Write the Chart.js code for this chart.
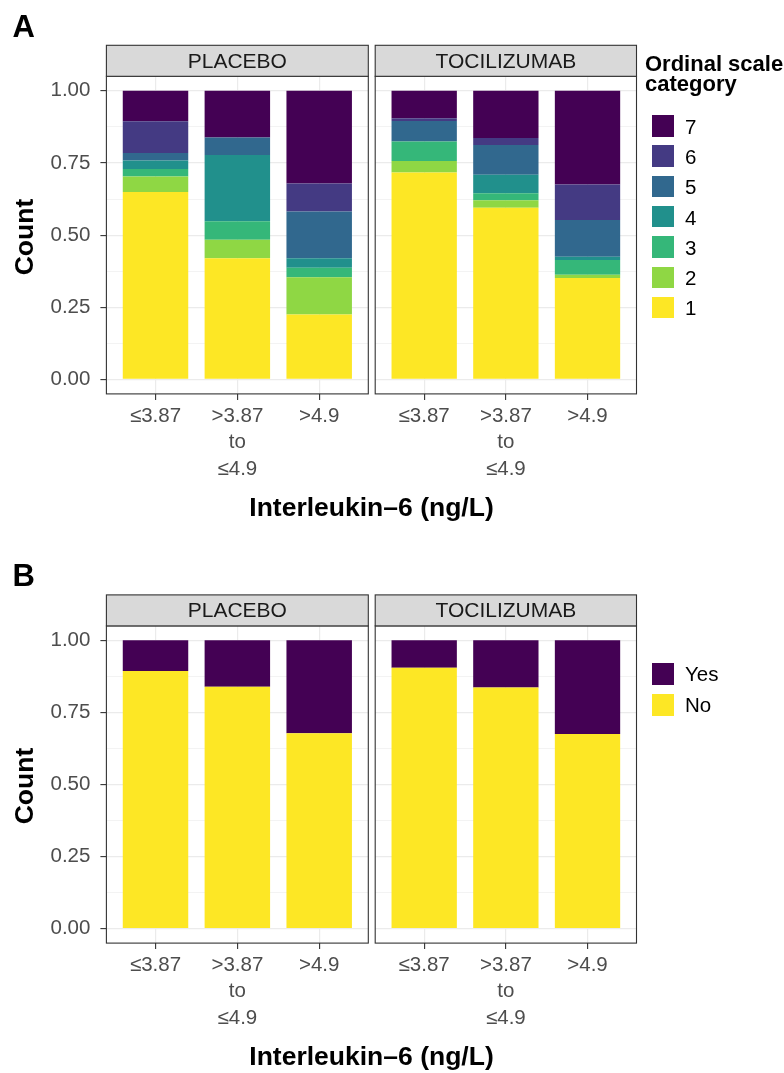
<!DOCTYPE html>
<html>
<head>
<meta charset="utf-8">
<script src="https://cdn.jsdelivr.net/npm/chart.js@4/dist/chart.umd.min.js"></script>
<style>
html,body{margin:0;padding:0;background:#fff;}
#wrap{position:relative;width:784px;height:1073px;overflow:hidden;font-family:"Liberation Sans",Arial,sans-serif;background:#fff;}
canvas{position:absolute;left:0;top:0;}
.t{position:absolute;white-space:nowrap;}
.sw{position:absolute;}
</style>
</head>
<body>
<div id="wrap">
<canvas id="aPlacebo" width="784" height="1073"></canvas>
<canvas id="aToci" width="784" height="1073"></canvas>
<canvas id="bPlacebo" width="784" height="1073"></canvas>
<canvas id="bToci" width="784" height="1073"></canvas>
</div>
<script>
// ---------------- DATA ----------------
const categoryLabels = ['≤3.87', ['>3.87', 'to', '≤4.9'], '>4.9'];
const facetLabels = ['PLACEBO', 'TOCILIZUMAB'];
const ordinalLevels = ['1', '2', '3', '4', '5', '6', '7'];
// rows: ordinal scale category 1..7 ; columns: IL-6 bins
const placeboOrdinal = [
  [0.649, 0.420, 0.225],
  [0.054, 0.064, 0.129],
  [0.026, 0.064, 0.033],
  [0.029, 0.229, 0.033],
  [0.026, 0.061, 0.162],
  [0.110, 0.000, 0.097],
  [0.106, 0.162, 0.321]
];
const tociOrdinal = [
  [0.717, 0.595, 0.351],
  [0.040, 0.026, 0.012],
  [0.067, 0.024, 0.051],
  [0.000, 0.064, 0.011],
  [0.071, 0.103, 0.127],
  [0.010, 0.024, 0.123],
  [0.095, 0.164, 0.325]
];
const binaryLevels = ['No', 'Yes'];
const placeboNo = [0.894, 0.839, 0.678];
const placeboYes = [0.106, 0.161, 0.322];
const tociNo = [0.905, 0.836, 0.675];
const tociYes = [0.095, 0.164, 0.325];
const yTickValues = [0, 0.125, 0.25, 0.375, 0.5, 0.625, 0.75, 0.875, 1];

// ---------------- STYLE ----------------
const ordinalColors = ['#FDE725', '#8FD744', '#35B779', '#21908C', '#31688E', '#443A83', '#440154'];
const binaryColors = ['#FDE725', '#440154'];
const FONT = '"Liberation Sans", Arial, sans-serif';
const PAGE_W = 784, PAGE_H = 1073;
Chart.defaults.font.family = FONT;

const isMajor = v => Math.abs(v * 4 - Math.round(v * 4)) < 1e-6;
const categoryPositions = categoryLabels.map((_, i) => i + 1);

const panelDeco = {
  id: 'panelDeco',
  afterDraw(chart, args, opts) {
    const ctx = chart.ctx, a = chart.chartArea;
    const w = a.right - a.left, sh = opts.height;
    ctx.save();
    ctx.strokeStyle = '#333333';
    ctx.lineWidth = 1.1;
    ctx.strokeRect(a.left, a.top, w, a.bottom - a.top);
    ctx.fillStyle = '#D9D9D9';
    ctx.fillRect(a.left, a.top - sh, w, sh);
    ctx.strokeRect(a.left, a.top - sh, w, sh);
    ctx.fillStyle = '#1A1A1A';
    ctx.font = '21px ' + FONT;
    ctx.textAlign = 'center';
    ctx.textBaseline = 'middle';
    ctx.fillText(opts.text, (a.left + a.right) / 2, a.top - sh / 2 + 1);
    ctx.restore();
  }
};

function makeDatasets(rows, levels, colors) {
  return rows.map((vals, i) => ({
    label: levels[i],
    data: vals.map((v, j) => ({ x: categoryPositions[j], y: v })),
    backgroundColor: colors[i],
    borderWidth: 0,
    categoryPercentage: 1,
    barPercentage: 0.8
  }));
}

function makePanel(id, stripText, datasets, area, showY) {
  const yW = showY ? 60 : 0;
  const xH = 90;
  return new Chart(document.getElementById(id), {
    type: 'bar',
    data: { datasets },
    options: {
      responsive: false,
      animation: false,
      events: [],
      layout: { padding: { left: area.left - yW, right: PAGE_W - area.right, top: area.top, bottom: PAGE_H - area.bottom - xH } },
      plugins: { legend: { display: false }, tooltip: { enabled: false }, panelDeco: { text: stripText, height: 31 } },
      scales: {
        x: {
          type: 'linear', min: 0.4, max: 3.6, offset: false, stacked: true,
          grid: { offset: false, color: '#EBEBEB', lineWidth: 1.2, drawTicks: true, tickLength: 6, tickColor: '#333333', tickWidth: 1.1 },
          border: { display: false },
          ticks: { padding: 3, color: '#4D4D4D', font: { size: 20.5, lineHeight: 1.29 }, maxRotation: 0, minRotation: 0, autoSkip: false,
                   callback: v => categoryLabels[Math.round(v) - 1] },
          afterBuildTicks: s => { s.ticks = categoryPositions.map(v => ({ value: v })); },
          afterFit: s => { s.height = xH; }
        },
        y: {
          type: 'linear', min: -0.05, max: 1.05, stacked: true,
          grid: {
            color: '#EBEBEB',
            lineWidth: c => isMajor(c.tick.value) ? 1.2 : 0.6,
            drawTicks: showY, tickLength: 6, tickWidth: 1.1,
            tickColor: c => isMajor(c.tick.value) ? '#333333' : 'rgba(0,0,0,0)'
          },
          border: { display: false },
          ticks: { display: showY, padding: 10, color: '#4D4D4D', font: { size: 20.5 }, autoSkip: false,
                   callback: v => isMajor(v) ? v.toFixed(2) : '' },
          afterBuildTicks: s => { s.ticks = yTickValues.map(v => ({ value: v })); },
          afterFit: s => { s.width = yW; }
        }
      }
    },
    plugins: [panelDeco]
  });
}

const areaA = { top: 76.3, bottom: 393.9 };
const areaB = { top: 625.9, bottom: 943.1 };
const colPlacebo = { left: 106.4, right: 368.3 };
const colToci = { left: 375.2, right: 636.5 };

makePanel('aPlacebo', facetLabels[0], makeDatasets(placeboOrdinal, ordinalLevels, ordinalColors), Object.assign({}, areaA, colPlacebo), true);
makePanel('aToci', facetLabels[1], makeDatasets(tociOrdinal, ordinalLevels, ordinalColors), Object.assign({}, areaA, colToci), false);
makePanel('bPlacebo', facetLabels[0], makeDatasets([placeboNo, placeboYes], binaryLevels, binaryColors), Object.assign({}, areaB, colPlacebo), true);
makePanel('bToci', facetLabels[1], makeDatasets([tociNo, tociYes], binaryLevels, binaryColors), Object.assign({}, areaB, colToci), false);

// ---------------- HTML TEXT ----------------
const wrap = document.getElementById('wrap');
function addText(text, x, baseline, size, opts) {
  opts = opts || {};
  const d = document.createElement('div');
  d.className = 't';
  d.textContent = text;
  d.style.fontSize = size + 'px';
  d.style.lineHeight = size + 'px';
  d.style.fontWeight = opts.bold ? 'bold' : 'normal';
  d.style.color = opts.color || '#000';
  d.style.top = (baseline - 0.8465 * size) + 'px';
  d.style.left = x + 'px';
  if (opts.center) d.style.transform = 'translateX(-50%)';
  wrap.appendChild(d);
  return d;
}
function addRotated(text, cx, cy, size) {
  const d = document.createElement('div');
  d.className = 't';
  d.textContent = text;
  d.style.fontSize = size + 'px';
  d.style.lineHeight = size + 'px';
  d.style.fontWeight = 'bold';
  d.style.left = cx + 'px';
  d.style.top = cy + 'px';
  d.style.transform = 'translate(-50%,-50%) rotate(-90deg)';
  wrap.appendChild(d);
}
function addSwatch(x, y, s, color) {
  const d = document.createElement('div');
  d.className = 'sw';
  d.style.left = x + 'px'; d.style.top = y + 'px';
  d.style.width = s + 'px'; d.style.height = s + 'px';
  d.style.background = color;
  wrap.appendChild(d);
}

addText('A', 12.5, 37, 31, { bold: true });
addText('B', 12.5, 586, 31, { bold: true });
addRotated('Count', 24, 236.5, 26.5);
addRotated('Count', 24, 785.5, 26.5);
addText('Interleukin–6 (ng/L)', 371.5, 516.5, 26.5, { bold: true, center: true });
addText('Interleukin–6 (ng/L)', 371.5, 1065.5, 26.5, { bold: true, center: true });

// legend A
addText('Ordinal scale', 645, 72, 22, { bold: true });
addText('category', 645, 92, 22, { bold: true });
for (let k = 0; k < ordinalLevels.length; k++) {
  const i = ordinalLevels.length - 1 - k;
  addSwatch(652, 115 + 30.3 * k, 21.5, ordinalColors[i]);
  addText(ordinalLevels[i], 685, 134 + 30.3 * k, 20.5);
}
// legend B
for (let k = 0; k < binaryLevels.length; k++) {
  const i = binaryLevels.length - 1 - k;
  addSwatch(652, 663 + 31 * k, 21.5, binaryColors[i]);
  addText(binaryLevels[i], 685, 681.5 + 31 * k, 20.5);
}
</script>
</body>
</html>
